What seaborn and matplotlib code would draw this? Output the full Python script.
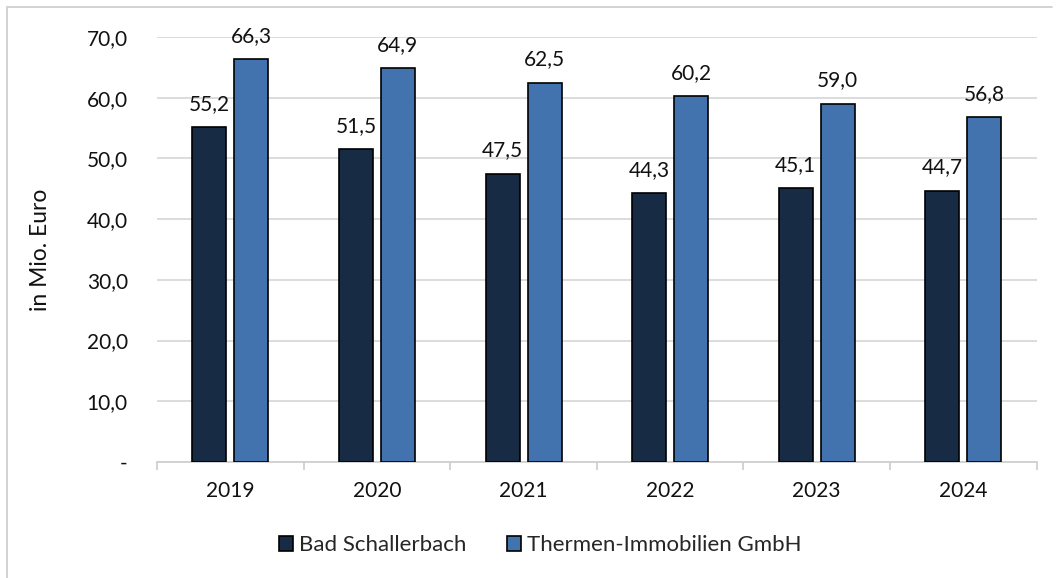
import matplotlib
matplotlib.use("Agg")
import matplotlib.pyplot as plt
import seaborn as sns
import pandas as pd
from matplotlib.lines import Line2D
from matplotlib.ticker import FuncFormatter, FixedLocator

years = ["2019", "2020", "2021", "2022", "2023", "2024"]
bad_schallerbach = [55.2, 51.5, 47.5, 44.3, 45.1, 44.7]
thermen_immobilien = [66.3, 64.9, 62.5, 60.2, 59.0, 56.8]
series_names = ["Bad Schallerbach", "Thermen-Immobilien GmbH"]
colors = ["#172B45", "#4373AF"]

df = pd.DataFrame({
    "Jahr": years * 2,
    "Wert": bad_schallerbach + thermen_immobilien,
    "Serie": [series_names[0]] * len(years) + [series_names[1]] * len(years),
})

sns.set_theme(style="white")
plt.rcParams["font.family"] = ["Lato", "DejaVu Sans"]

FS = 15

fig = plt.figure(figsize=(10.61, 5.78), dpi=100)
ax = fig.add_axes([0.148, 0.2007, 0.829, 0.7353])

sns.barplot(data=df, x="Jahr", y="Wert", hue="Serie", palette=colors,
            saturation=1, width=0.573, gap=0.19, edgecolor="black", linewidth=1.2,
            ax=ax, legend=True, zorder=3)

fmt = lambda v: f"{v:.1f}".replace(".", ",")
for cont in ax.containers:
    ax.bar_label(cont, labels=[fmt(v) for v in cont.datavalues],
                 padding=9.5, fontsize=FS, color="#111111", clip_on=False)

ax.set_ylim(0, 70)
ax.set_xlim(-0.5, len(years) - 0.5)
ax.yaxis.set_major_locator(FixedLocator(range(0, 71, 10)))
ax.yaxis.set_major_formatter(FuncFormatter(lambda v, p: "-" if v == 0 else fmt(v)))
ax.grid(axis="y", color="#D9D9D9", linewidth=1.3, zorder=0)
ax.set_axisbelow(True)

for s in ["top", "right", "left"]:
    ax.spines[s].set_visible(False)
ax.spines["bottom"].set_color("#D0D0D0")
ax.spines["bottom"].set_linewidth(1.3)

ax.tick_params(axis="y", length=0, pad=21, labelsize=FS, labelcolor="#111111")
ax.tick_params(axis="x", which="major", length=0, pad=14, labelsize=FS, labelcolor="#111111")
ax.xaxis.set_minor_locator(FixedLocator([i - 0.5 for i in range(len(years) + 1)]))
ax.tick_params(axis="x", which="minor", length=6, width=1.3, color="#D0D0D0", bottom=True)

ax.set_xlabel("")
ax.set_ylabel("in Mio. Euro", fontsize=16.5, color="#111111", labelpad=26)

ax.get_legend().remove()
handles = [plt.Rectangle((0, 0), 1, 1, facecolor=c, edgecolor="black", linewidth=1.2) for c in colors]
fig.legend(handles, series_names, loc="center", bbox_to_anchor=(0.509, 0.057),
           ncol=2, frameon=False, fontsize=16, handlelength=0.63, handleheight=0.63,
           handletextpad=0.27, columnspacing=1.85)

# figure border (top and left)
fig.add_artist(Line2D([7 / 1061, 1052 / 1061], [1 - 7 / 578, 1 - 7 / 578],
                      transform=fig.transFigure, color="#D0D0D0", linewidth=1.3))
fig.add_artist(Line2D([7 / 1061, 7 / 1061], [0, 1 - 7 / 578],
                      transform=fig.transFigure, color="#D0D0D0", linewidth=1.3))

fig.savefig("out.png", dpi=100, facecolor="white")
